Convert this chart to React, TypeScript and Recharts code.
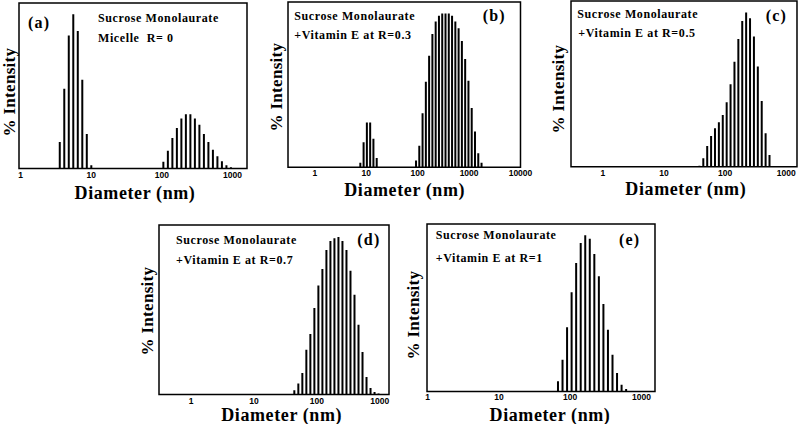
import React from 'react';
import { BarChart, Bar, XAxis, YAxis, ReferenceArea } from 'recharts';

// size classes (nm) and % intensity
const diamA = [3.615, 4.187, 4.849, 5.615, 6.503, 7.531, 8.721, 10.1, 105.7, 122.4, 141.8, 164.2, 190.1, 220.2, 255, 295.3, 342, 396.1, 458.7, 531.2, 615.1, 712.4, 825, 955.4];
const intA = [2.4, 7.2, 12.0, 13.9, 12.4, 8.0, 3.1, 0.3, 0.6, 1.6, 2.75, 3.65, 4.5, 4.9, 4.9, 4.5, 3.95, 3.1, 2.4, 1.7, 1.1, 0.65, 0.3, 0.12];

const diamB = [7.531, 8.721, 10.1, 11.7, 13.54, 15.69, 91.28, 105.7, 122.4, 141.8, 164.2, 190.1, 220.2, 255, 295.3, 342, 396.1, 458.7, 531.2, 615.1, 712.4, 825, 955.4, 1106, 1281, 1484, 1718];
const intB = [0.2, 1.14, 2.04, 2.04, 1.29, 0.42, 0.3, 0.98, 2.45, 3.89, 5.07, 6.06, 6.63, 6.89, 7.0, 7.0, 7.0, 6.89, 6.63, 6.33, 5.75, 4.92, 3.94, 2.69, 1.62, 0.64, 0.2];

const diamC = [37.84, 43.82, 50.75, 58.77, 68.06, 78.82, 91.28, 105.7, 122.4, 141.8, 164.2, 190.1, 220.2, 255, 295.3, 342, 396.1, 458.7, 531.2];
const intC = [0.07, 0.61, 1.52, 2.25, 2.81, 3.25, 3.79, 4.72, 6.04, 7.7, 9.37, 10.69, 11.3, 10.88, 9.54, 7.34, 4.82, 2.45, 0.86];

const diamD = [43.82, 50.75, 58.77, 68.06, 78.82, 91.28, 105.7, 122.4, 141.8, 164.2, 190.1, 220.2, 255, 295.3, 342, 396.1, 458.7, 531.2, 615.1, 712.4, 825, 955.4];
const intD = [0.25, 0.63, 1.24, 2.58, 3.48, 4.98, 6.28, 7.23, 8.32, 8.84, 8.99, 9.07, 8.84, 8.32, 7.12, 5.74, 4.02, 2.45, 1.01, 0.38, 0.15, 0.06];

const diamE = [68.06, 78.82, 91.28, 105.7, 122.4, 141.8, 164.2, 190.1, 220.2, 255, 295.3, 342, 396.1, 458.7, 531.2, 615.1];
const intE = [0.8, 2.52, 5.1, 7.89, 10.22, 11.82, 12.43, 12.16, 10.94, 9.16, 6.96, 4.91, 2.92, 1.46, 0.53, 0.19];

const ticks3 = [1, 10, 100, 1000];
const ticks4 = [1, 10, 100, 1000, 10000];

const SERIF = '"Liberation Serif", "Times New Roman", serif';

type PanelProps = {
  box: [number, number, number, number];
  domain: [number, number];
  ticks: number[];
  diam: number[];
  vals: number[];
  yTop: number;
};

const Panel = ({ box, domain, ticks, diam, vals, yTop }: PanelProps) => {
  const data = diam.map((d, i) => ({ d, v: vals[i] }));
  const [x0, y0, x1, y1] = box;
  const mL = 20, mR = 22, mT = 4, axisH = 20;
  const w = x1 - x0 + mL + mR;
  const h = y1 - y0 + mT + axisH;
  return (
    <div style={{ position: 'absolute', left: x0 - mL, top: y0 - mT }}>
      <BarChart width={w} height={h} data={data} margin={{ top: mT, right: mR, left: mL, bottom: 0 }}>
        <XAxis
          dataKey="d"
          type="number"
          scale="log"
          domain={domain}
          ticks={ticks}
          allowDataOverflow
          axisLine={false}
          tickLine={false}
          tickSize={2}
          tickMargin={1}
          height={axisH}
          interval={0}
          tick={{ fontSize: 8.5, fontWeight: 'bold', fill: '#000', fontFamily: '"Liberation Sans", Arial, sans-serif' }}
        />
        <YAxis hide domain={[0, yTop]} allowDataOverflow />
        <ReferenceArea x1={domain[0]} x2={domain[1]} y1={0} y2={yTop} fill="none" stroke="#000" strokeWidth={1.5} ifOverflow="visible" />
        <Bar dataKey="v" fill="#000" barSize={2} isAnimationActive={false} />
      </BarChart>
    </div>
  );
};

const Txt = ({ x, y, size, children, center, rotate, spacing }: any) => (
  <div
    style={{
      position: 'absolute',
      left: x,
      top: y,
      transform: `translate(${center ? '-50%' : '0'}, -50%)${rotate ? ' rotate(-90deg)' : ''}`,
      fontFamily: SERIF,
      fontWeight: 'bold',
      fontSize: size,
      lineHeight: 1,
      whiteSpace: 'pre',
      letterSpacing: spacing ?? 0,
      color: '#000',
    }}
  >
    {children}
  </div>
);

const Labels = ({ lx, ly, dx, dy, tag, tx, ty, l1, l1x, l1y, l2, l2x, l2y }: any) => (
  <>
    <Txt x={lx} y={ly} size={17} center rotate spacing={0.3}>% Intensity</Txt>
    <Txt x={dx} y={dy} size={18} center spacing={0.6}>Diameter (nm)</Txt>
    <Txt x={tx} y={ty} size={16} spacing={1.2}>{tag}</Txt>
    <Txt x={l1x} y={l1y} size={12} spacing={0.6}>{l1}</Txt>
    <Txt x={l2x} y={l2y} size={12} spacing={0.6}>{l2}</Txt>
  </>
);

export default function App() {
  return (
    <div style={{ position: 'absolute', left: 0, top: 0, width: 798, height: 424, background: '#fff', overflow: 'hidden' }}>
      <Panel box={[18.5, 2.5, 246.5, 168]} domain={[0.95, 1600]} ticks={ticks3} diam={diamA} vals={intA} yTop={14.92} />
      <Panel box={[288, 1.5, 520.5, 166.7]} domain={[0.3, 10000]} ticks={ticks4} diam={diamB} vals={intB} yTop={7.52} />
      <Panel box={[571, 1, 797, 166.7]} domain={[0.3, 1500]} ticks={ticks3} diam={diamC} vals={intC} yTop={12.15} />
      <Panel box={[159.3, 225, 389.3, 394.5]} domain={[0.31, 1400]} ticks={ticks3} diam={diamD} vals={intD} yTop={9.76} />
      <Panel box={[427, 224.3, 655, 391.7]} domain={[0.98, 1550]} ticks={ticks3} diam={diamE} vals={intE} yTop={13.33} />

      <Labels lx={8.5} ly={91.7} dx={135} dy={192.5} tag="(a)" tx={28} ty={23}
        l1="Sucrose Monolaurate" l1x={98} l1y={17.5} l2="Micelle  R= 0" l2x={98} l2y={37.7} />
      <Labels lx={275.5} ly={87} dx={404.7} dy={190} tag="(b)" tx={482.7} ty={15.7}
        l1="Sucrose Monolaurate" l1x={294.3} l1y={15.7} l2="+Vitamin E at R=0.3" l2x={294.3} l2y={35} />
      <Labels lx={557.5} ly={89} dx={685.8} dy={188.5} tag="(c)" tx={765.7} ty={16}
        l1="Sucrose Monolaurate" l1x={577.3} l1y={14} l2="+Vitamin E at R=0.5" l2x={578.3} l2y={33.3} />
      <Labels lx={147} ly={311} dx={281.7} dy={415} tag="(d)" tx={357.3} ty={240}
        l1="Sucrose Monolaurate" l1x={176} l1y={240} l2="+Vitamin E at R=0.7" l2x={176} l2y={260} />
      <Labels lx={413.3} ly={314.5} dx={550} dy={414.5} tag="(e)" tx={619} ty={240}
        l1="Sucrose Monolaurate" l1x={435.7} l1y={235} l2="+Vitamin E at R=1" l2x={435.7} l2y={258.3} />
    </div>
  );
}
